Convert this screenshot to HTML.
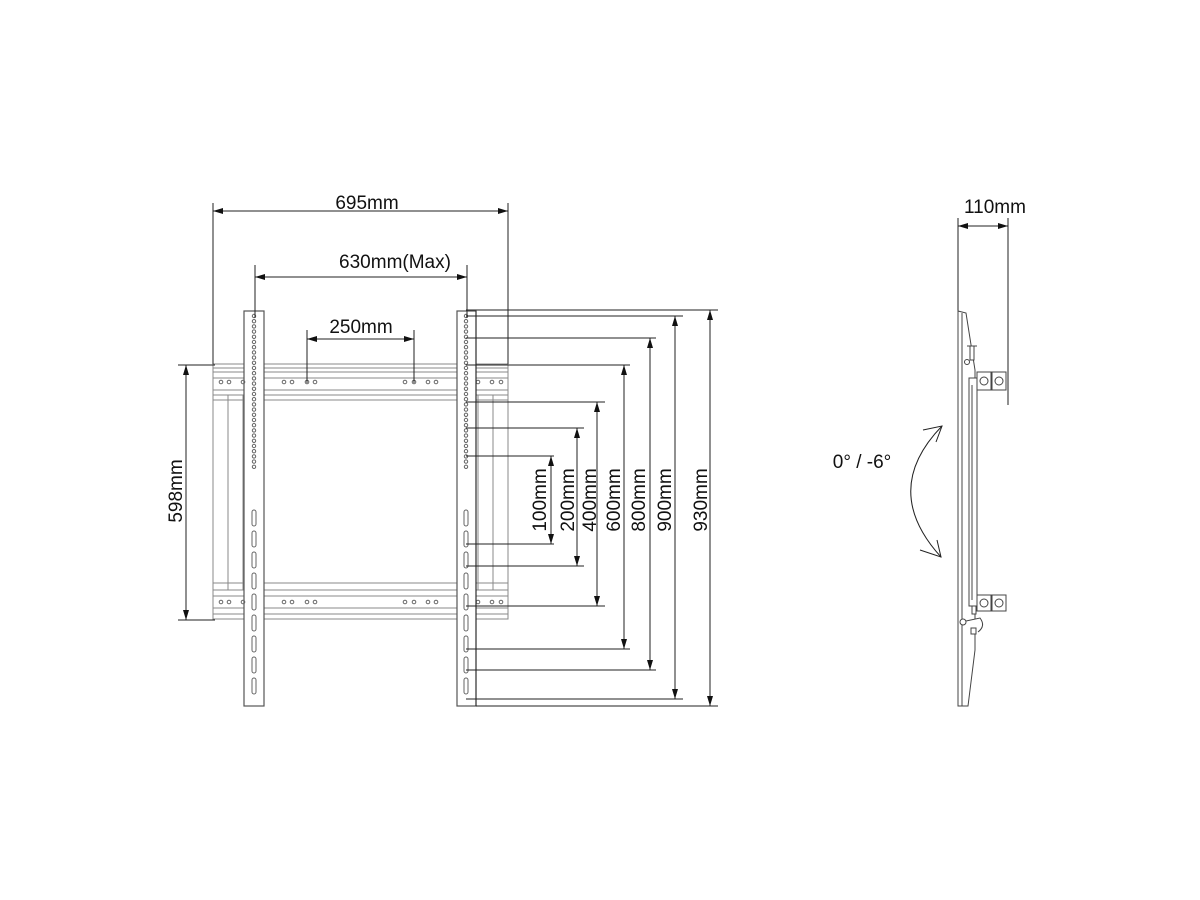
<!DOCTYPE html>
<html><head><meta charset="utf-8"><style>
html,body{margin:0;padding:0;background:#fff;}
svg{display:block;}
text{font-family:"Liberation Sans",Arial,sans-serif;font-size:19px;fill:#111;}
</style></head><body>
<svg id="s" width="1200" height="900" viewBox="0 0 1200 900" xmlns="http://www.w3.org/2000/svg">
<defs>
<marker id="a" viewBox="0 0 10 6" refX="10" refY="3" markerWidth="10" markerHeight="6" orient="auto-start-reverse" markerUnits="userSpaceOnUse"><path d="M0,0 L10,3 L0,6 Z" fill="#111"/></marker>
</defs>
<g stroke="#888" stroke-width="1" fill="none">
<rect x="213" y="364" width="295" height="36"/>
<line x1="213" y1="368" x2="508" y2="368"/>
<line x1="213" y1="372" x2="508" y2="372"/>
<line x1="213" y1="378" x2="508" y2="378"/>
<line x1="213" y1="390" x2="508" y2="390"/>
<line x1="213" y1="395" x2="508" y2="395"/>
<rect x="213" y="583" width="295" height="36"/>
<line x1="213" y1="590" x2="508" y2="590"/>
<line x1="213" y1="596" x2="508" y2="596"/>
<line x1="213" y1="608" x2="508" y2="608"/>
<line x1="213" y1="614" x2="508" y2="614"/>
<rect x="213" y="395" width="15" height="195"/>
<rect x="493" y="395" width="15" height="195"/>
<line x1="228" y1="395" x2="228" y2="590"/>
<line x1="243" y1="395" x2="243" y2="590"/>
<line x1="478" y1="395" x2="478" y2="590"/>
</g>
<g stroke="#555" stroke-width="1.2" fill="#fff">
<rect x="244" y="311" width="20" height="395"/>
<rect x="457" y="311" width="19" height="395"/>
</g>
<g stroke="#666" stroke-width="1" fill="none" id="holes"></g>
<g stroke="#222" stroke-width="1" fill="none">
<line x1="476" y1="311" x2="476" y2="706"/>
<line x1="213" y1="203" x2="213" y2="364"/>
<line x1="508" y1="203" x2="508" y2="364"/>
<line x1="213" y1="211" x2="508" y2="211" marker-start="url(#a)" marker-end="url(#a)"/>
<line x1="255" y1="265" x2="255" y2="318"/>
<line x1="467" y1="265" x2="467" y2="318"/>
<line x1="255" y1="277" x2="467" y2="277" marker-start="url(#a)" marker-end="url(#a)"/>
<line x1="307" y1="330" x2="307" y2="383"/>
<line x1="414" y1="330" x2="414" y2="383"/>
<line x1="307" y1="339" x2="414" y2="339" marker-start="url(#a)" marker-end="url(#a)"/>
<line x1="178" y1="365" x2="215" y2="365"/>
<line x1="178" y1="620" x2="215" y2="620"/>
<line x1="186" y1="365" x2="186" y2="620" marker-start="url(#a)" marker-end="url(#a)"/>
<line x1="466" y1="310" x2="718" y2="310"/><line x1="476" y1="706" x2="718" y2="706"/>
<line x1="710" y1="310" x2="710" y2="706" marker-start="url(#a)" marker-end="url(#a)"/>
<line x1="466" y1="316" x2="683" y2="316"/><line x1="466" y1="699" x2="683" y2="699"/>
<line x1="675" y1="316" x2="675" y2="699" marker-start="url(#a)" marker-end="url(#a)"/>
<line x1="466" y1="338" x2="656" y2="338"/><line x1="466" y1="670" x2="656" y2="670"/>
<line x1="650" y1="338" x2="650" y2="670" marker-start="url(#a)" marker-end="url(#a)"/>
<line x1="466" y1="365" x2="630" y2="365"/><line x1="466" y1="649" x2="630" y2="649"/>
<line x1="624" y1="365" x2="624" y2="649" marker-start="url(#a)" marker-end="url(#a)"/>
<line x1="466" y1="402" x2="605" y2="402"/><line x1="466" y1="606" x2="605" y2="606"/>
<line x1="597" y1="402" x2="597" y2="606" marker-start="url(#a)" marker-end="url(#a)"/>
<line x1="466" y1="428" x2="584" y2="428"/><line x1="466" y1="566" x2="584" y2="566"/>
<line x1="577" y1="428" x2="577" y2="566" marker-start="url(#a)" marker-end="url(#a)"/>
<line x1="466" y1="456" x2="554" y2="456"/><line x1="466" y1="544" x2="554" y2="544"/>
<line x1="551" y1="456" x2="551" y2="544" marker-start="url(#a)" marker-end="url(#a)"/>
<line x1="958" y1="218" x2="958" y2="311"/>
<line x1="1008" y1="218" x2="1008" y2="405"/>
<line x1="958" y1="226" x2="1008" y2="226" marker-start="url(#a)" marker-end="url(#a)"/>
<path d="M942,426 Q880,490 941,557"/>
<path d="M923,430 L942,426 L936,442"/>
<path d="M920,550 L941,557 L937,540"/>
</g>
<g stroke="#444" stroke-width="1" fill="#fff">
<path d="M958,311 L966,313 L975,370 L975,620 L975,650 L968,706 L958,706 Z"/>
<line x1="962" y1="313" x2="962" y2="706"/>
<rect x="969" y="378" width="8" height="228"/>
<line x1="972" y1="385" x2="972" y2="600"/>
<rect x="977" y="372" width="14" height="18"/><rect x="992" y="372" width="14" height="18"/>
<circle cx="984" cy="381" r="4"/><circle cx="999" cy="381" r="4"/>
<rect x="977" y="595" width="14" height="16"/><rect x="992" y="595" width="14" height="16"/>
<circle cx="984" cy="603" r="4"/><circle cx="999" cy="603" r="4"/>
<rect x="970" y="346" width="4" height="14"/><line x1="967" y1="346" x2="977" y2="346"/>
<circle cx="967" cy="362" r="2.5"/>
<circle cx="963" cy="622" r="3"/><path d="M966,621 L980,618 Q986,626 978,632"/>
<rect x="971" y="628" width="5" height="6"/>
<rect x="972" y="606" width="4" height="8"/>
</g>
<g>
<text x="367" y="209" text-anchor="middle">695mm</text>
<text x="395" y="268" text-anchor="middle">630mm(Max)</text>
<text x="361" y="333" text-anchor="middle">250mm</text>
<text x="995" y="213" text-anchor="middle">110mm</text>
<text x="862" y="468" text-anchor="middle">0° / -6°</text>
<text transform="translate(182,491) rotate(-90)" text-anchor="middle">598mm</text>
<text transform="translate(546,500) rotate(-90)" text-anchor="middle">100mm</text>
<text transform="translate(574,500) rotate(-90)" text-anchor="middle">200mm</text>
<text transform="translate(596,500) rotate(-90)" text-anchor="middle">400mm</text>
<text transform="translate(620,500) rotate(-90)" text-anchor="middle">600mm</text>
<text transform="translate(645,500) rotate(-90)" text-anchor="middle">800mm</text>
<text transform="translate(671,500) rotate(-90)" text-anchor="middle">900mm</text>
<text transform="translate(707,500) rotate(-90)" text-anchor="middle">930mm</text>
</g>
<script>
(function(){
var g=document.getElementById('holes'),ns='http://www.w3.org/2000/svg';
function c(x,y,r){var e=document.createElementNS(ns,'circle');e.setAttribute('cx',x);e.setAttribute('cy',y);e.setAttribute('r',r);g.appendChild(e);}
function s(x,y,h){var e=document.createElementNS(ns,'rect');e.setAttribute('x',x-2);e.setAttribute('y',y);e.setAttribute('width',4);e.setAttribute('height',h);e.setAttribute('rx',2);g.appendChild(e);}
[254,466].forEach(function(x){
 for(var y=316;y<=468;y+=5.2)c(x,y,1.7);
 for(var y=510;y<=685;y+=21)s(x,y,16);
});
[221,229,243,284,292,307,315,405,414,428,436,478,492,501].forEach(function(x){c(x,382,1.8);c(x,602,1.8);});
})();
</script>
</svg>
</body></html>
